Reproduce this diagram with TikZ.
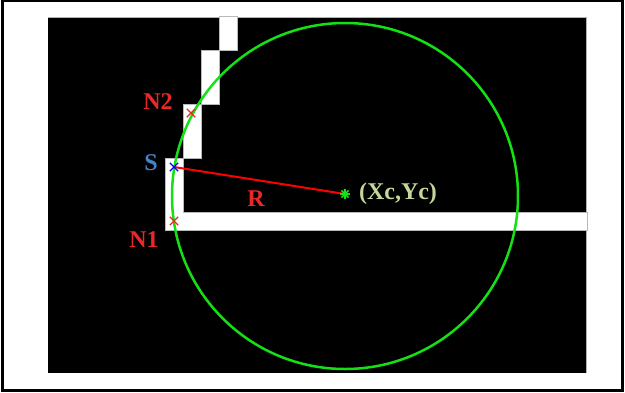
\documentclass[tikz,border=0pt]{standalone}
\usepackage{fontspec}
\setmainfont{Liberation Serif}
\usetikzlibrary{shapes.misc}
\definecolor{labred}{RGB}{235,40,40}
\definecolor{labblue}{RGB}{70,130,200}
\definecolor{labkhaki}{RGB}{195,214,155}
\definecolor{circgreen}{RGB}{20,225,20}
\begin{document}
\begin{tikzpicture}[x=1pt,y=-1pt,
  pix/.style={fill=white,draw=gray!55,line width=0.7pt},
  lab/.style={font=\fontsize{24}{26}\selectfont\bfseries,inner sep=0pt},
  xmark/.style={cross out,draw=#1,line width=1.4pt,minimum size=7pt,inner sep=0pt},
]
\useasboundingbox (0,0) rectangle (625,392);
\fill[white] (0,0) rectangle (625,392);
\draw[line width=2.5pt] (2.5,1.2) rectangle (622.5,390.5);
% black image area
\fill[black] (48,17) rectangle (586,373);
\draw[gray!60,line width=0.6pt] (48,17) -- (586,17) -- (586,373);
% white pixel staircase
\draw[pix] (219,16) rectangle (237,50);
\draw[pix] (201,50) rectangle (219,104);
\draw[pix] (183,104) rectangle (201,158);
\draw[pix] (165,158) -- (183,158) -- (183,212) -- (587,212) -- (587,230) -- (165,230) -- cycle;
% geometry
\coordinate (C) at (345,194);
\coordinate (S) at (174,167);
\coordinate (N1) at (174,221);
\coordinate (N2) at (191,113);
\draw[circgreen,line width=2.5pt] (345,196) circle (173);
\draw[red,line width=2pt] (S) -- (C);
\node[xmark=blue] (sm) at (S) {};
\node[xmark=labred] (n1m) at (N1) {};
\node[xmark=labred] (n2m) at (N2) {};
\foreach \a in {0,45,90,135}
  \draw[circgreen,line width=1.5pt] (C) ++(\a:5) -- ++(\a+180:10);
% labels
\node[lab,text=labred] (tN2) at (158,101.5) {N2};
\node[lab,text=labblue] (tS) at (151,163) {S};
\node[lab,text=labred] (tN1) at (144,240) {N1};
\node[lab,text=labred] (tR) at (256,199) {R};
\node[lab,text=labkhaki] (tC) at (398,194) {(Xc,Yc)};
\end{tikzpicture}
\end{document}
